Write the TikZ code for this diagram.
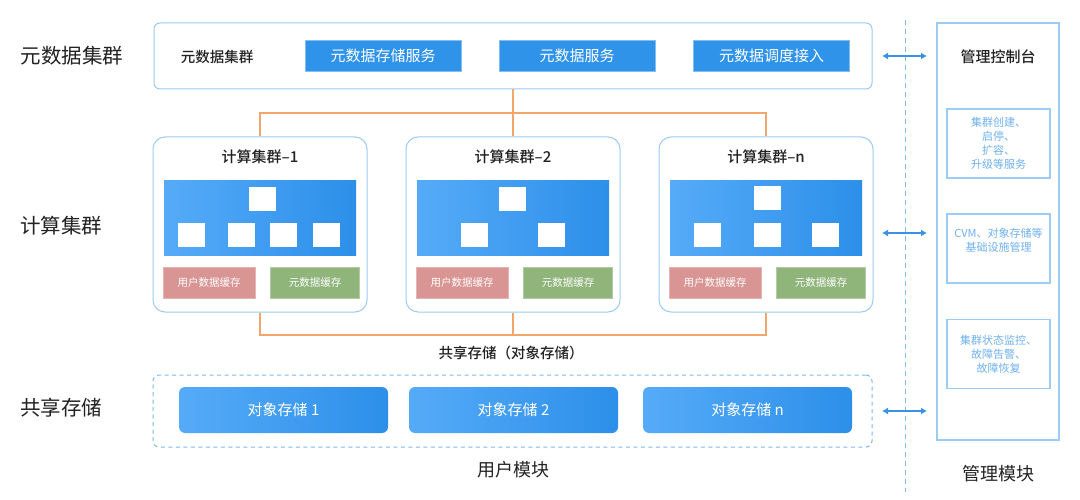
\documentclass[tikz,border=0pt]{standalone}
\usepackage{fontspec}
\setmainfont{Noto Sans CJK SC}
\newfontfamily\medfont{Noto Sans CJK SC}[UprightFont=* Medium]
\usetikzlibrary{arrows.meta}
\definecolor{lborder}{HTML}{9CCBF5}
\definecolor{svcblue}{HTML}{2F93EA}
\definecolor{gradl}{HTML}{56ABF8}
\definecolor{gradr}{HTML}{2C8FE9}
\definecolor{cred}{HTML}{D99593}
\definecolor{cgreen}{HTML}{8FB57B}
\definecolor{orangeline}{HTML}{F2A66A}
\definecolor{dashblue}{HTML}{7DBAF2}
\definecolor{arrowblue}{HTML}{3A92E6}
\definecolor{mgtext}{HTML}{6FB1EE}
\definecolor{txt}{HTML}{222222}
\newcommand{\fs}[1]{\fontsize{#1}{#1}\selectfont}
\tikzset{
  lbl/.style={text=txt, font=\fs{20.5}, inner sep=0},
  metabox/.style={draw=lborder, line width=1pt, rounded corners=6pt, fill=white, inner sep=0},
  svc/.style={fill=svcblue, draw=svcblue!60, line width=0.6pt, text=white, font=\fs{15}, inner sep=0, minimum width=156, minimum height=31},
  cbox/.style={draw=lborder, line width=1pt, rounded corners=12pt, fill=white, inner sep=0, minimum width=214, minimum height=175},
  ctitle/.style={text=txt, font=\medfont\fs{15}, inner sep=0},
  grad/.style={left color=gradl, right color=gradr, draw=none, inner sep=0, minimum width=192, minimum height=75},
  sq/.style={fill=white, draw=none, inner sep=0, minimum width=27, minimum height=24},
  ucache/.style={fill=cred, draw=cred!70, line width=0.5pt, text=white, font=\fs{10.5}, inner sep=0, minimum width=92, minimum height=31},
  mcache/.style={fill=cgreen, draw=cgreen!70, line width=0.5pt, text=white, font=\fs{10.5}, inner sep=0, minimum width=89, minimum height=31},
  orl/.style={draw=orangeline, line width=1.1pt},
  objbox/.style={left color=gradl, right color=gradr, draw=none, rounded corners=6pt, text=white, font=\fs{15}, inner sep=0, minimum width=209, minimum height=46},
  dbox/.style={draw=dashblue, line width=1pt, dash pattern=on 4pt off 3.5pt, rounded corners=6pt, inner sep=0},
  mgbox/.style={draw=lborder, line width=1.2pt, inner sep=0},
  mginner/.style={draw=lborder, line width=1.3pt, inner sep=0, minimum width=103, minimum height=69, text=mgtext, font=\fs{11}, align=center},
  biarrow/.style={draw=arrowblue, line width=1.1pt, {Latex[length=6pt,width=7pt]}-{Latex[length=6pt,width=7pt]}},
}
\begin{document}
\begin{tikzpicture}[x=1pt,y=-1pt]
\useasboundingbox[fill=white] (0,0) rectangle (1080,500);

% left labels
\node[lbl] (l1) at (72,56) {元数据集群};
\node[lbl] (l2) at (61,226) {计算集群};
\node[lbl] (l3) at (61,408) {共享存储};

% metadata cluster
\node[metabox, minimum width=718, minimum height=66] (meta) at (513,56) {};
\node[text=txt, font=\medfont\fs{14.5}, inner sep=0] (metat) at (217,57) {元数据集群};
\node[svc] (s1) at (383,55.5) {元数据存储服务};
\node[svc] (s2) at (577,55.5) {元数据服务};
\node[svc] (s3) at (771.5,55.5) {元数据调度接入};

% compute clusters
\foreach \i/\cx/\t in {1/260/1, 2/513/2, 3/766/n}{
  \node[cbox] (cb\i) at (\cx,224.5) {};
  \node[ctitle] (ct\i) at (\cx,157) {计算集群–\t};
  \node[grad] (g\i) at (\cx,218) {};
  \node[ucache] (uc\i) at ([xshift=-51pt]\cx,282.5) {用户数据缓存};
  \node[mcache] (mc\i) at ([xshift=55pt]\cx,282.5) {元数据缓存};
}
% squares cluster 1
\node[sq] (q11) at (262,199.5) {};
\node[sq] (q12) at (191.5,235) {};
\node[sq] (q13) at (241.5,235) {};
\node[sq] (q14) at (283.5,235) {};
\node[sq] (q15) at (326.5,235) {};
% squares cluster 2
\node[sq] (q21) at (512,199.5) {};
\node[sq] (q22) at (474.5,235) {};
\node[sq] (q23) at (551.5,235) {};
% squares cluster 3
\node[sq] (q31) at (767.5,198.5) {};
\node[sq] (q32) at (707.5,235) {};
\node[sq] (q33) at (767.5,235) {};
\node[sq] (q34) at (825.5,235) {};

% orange connectors
\coordinate (j1) at (513,113);
\coordinate (j2) at (513,335);
\draw[orl] (meta.south) -- (cb2.north);
\draw[orl] (cb1.north) |- (j1) -| (cb3.north);
\draw[orl] (cb2.south) -- (j2);
\draw[orl] (cb1.south) |- (j2) -| (cb3.south);

\node[text=txt, font=\medfont\fs{14.5}, inner sep=0] (sharet) at (511,353) {共享存储（对象存储）};

% shared storage
\node[dbox, minimum width=719, minimum height=72] (share) at (512.5,411) {};
\node[objbox] (o1) at (283.5,410) {对象存储 1};
\node[objbox] (o2) at (513.5,410) {对象存储 2};
\node[objbox] (o3) at (747.5,410) {对象存储 n};
\node[text=txt, font=\fs{18}, inner sep=0] (userm) at (513,470) {用户模块};

% separator
\coordinate (sep1) at (905,20);
\coordinate (sep2) at (905,492);
\draw[draw=dashblue, line width=1pt, dash pattern=on 5pt off 4pt] (sep1) -- (sep2);

% management
\node[mgbox, minimum width=122, minimum height=417] (mg) at (998,231.5) {};
\node[text=txt, font=\medfont\fs{15}, inner sep=0] (mgt) at (998,57) {管理控制台};
\node[mginner] (m1) at (998.5,143.5) {集群创建、\\[3pt]启停、\\[3pt]扩容、\\[3pt]升级等服务};
\node[mginner] (m2) at (998.5,248.5) {CVM、对象存储等\\[3pt]基础设施管理\\[6pt]};
\node[mginner] (m3) at (998.5,354) {集群状态监控、\\[3pt]故障告警、\\[3pt]故障恢复};
\node[text=txt, font=\fs{18}, inner sep=0] (mgm) at (998,474) {管理模块};

% arrows
\coordinate (a1l) at (882,56);  \coordinate (a1r) at (927,56);
\coordinate (a2l) at (882,233); \coordinate (a2r) at (927,233);
\coordinate (a3l) at (882,411); \coordinate (a3r) at (927,411);
\draw[biarrow] (a1l) -- (a1r);
\draw[biarrow] (a2l) -- (a2r);
\draw[biarrow] (a3l) -- (a3r);
\end{tikzpicture}
\end{document}
